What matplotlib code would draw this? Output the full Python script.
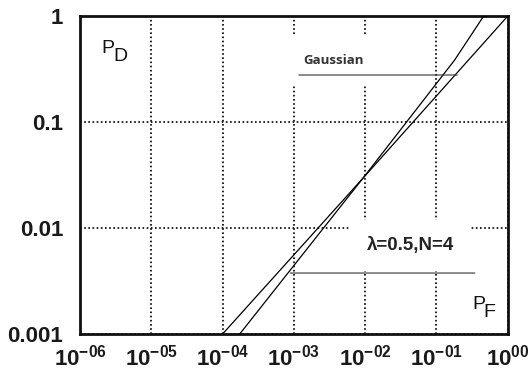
import matplotlib
matplotlib.use("Agg")
import matplotlib.pyplot as plt

plt.rcParams['mathtext.fontset'] = 'custom'
plt.rcParams['mathtext.rm'] = 'Liberation Sans'
plt.rcParams['mathtext.bf'] = 'Liberation Sans:bold'
plt.rcParams['font.family'] = ['Liberation Sans', 'DejaVu Sans']

# data
pf_a = [1e-4, 0.0093, 1.0]
pd_a = [1e-3, 0.0295, 1.0]
pf_b = [1.74e-4, 0.0093, 0.18, 0.45, 0.5]
pd_b = [1e-3, 0.0295, 0.385, 0.98, 1.0]

x_ticks = [1e-6, 1e-5, 1e-4, 1e-3, 1e-2, 1e-1, 1e0]
x_labels = [r'$\mathbf{10^{-06}}$', r'$\mathbf{10^{-05}}$', r'$\mathbf{10^{-04}}$',
            r'$\mathbf{10^{-03}}$', r'$\mathbf{10^{-02}}$', r'$\mathbf{10^{-01}}$',
            r'$\mathbf{10^{00}}$']
y_ticks = [1e-3, 1e-2, 1e-1, 1]
y_labels = ['0.001', '0.01', '0.1', '1']

fig = plt.figure(figsize=(5.30, 3.74), dpi=100)
ax = fig.add_axes([0.151, 0.107, 0.807, 0.850])
ax.set_xscale('log')
ax.set_yscale('log')
ax.set_xlim(1e-6, 1)
ax.set_ylim(1e-3, 1)

ax.plot(pf_a, pd_a, color='black', lw=0.9, zorder=4)
ax.plot(pf_b, pd_b, color='black', lw=0.9, zorder=4)

ax.set_xticks(x_ticks)
ax.set_xticklabels(x_labels, fontsize=16, color='#1a1a1a')
ax.set_yticks(y_ticks)
ax.set_yticklabels(y_labels, fontsize=16, fontweight='bold', color='#1a1a1a')
ax.minorticks_off()
ax.tick_params(length=0)
ax.tick_params(axis='y', pad=12)
ax.tick_params(axis='x', pad=8)

ax.grid(True, which='major', color='black', linestyle=(0, (1, 1.5)), lw=1.2, zorder=1)
ax.set_axisbelow(True)
for s in ax.spines.values():
    s.set_linewidth(2)
    s.set_color('#111111')

# axis name labels
ax.text(0.051, 0.884, 'P', transform=ax.transAxes, fontsize=14, color='#111111')
ax.annotate('D', xy=(0.051, 0.884), xycoords='axes fraction', xytext=(8.6, -5.8),
            textcoords='offset points', fontsize=14, color='#111111')
ax.text(0.918, 0.079, 'P', transform=ax.transAxes, fontsize=14, color='#111111')
ax.annotate('F', xy=(0.918, 0.079), xycoords='axes fraction', xytext=(8.0, -5.8),
            textcoords='offset points', fontsize=14, color='#111111')

ax.text(3.55e-3, 0.385, 'Gaussian', fontsize=9.5, fontweight='bold', family='Open Sans',
        ha='center', va='center', color='#333333', zorder=3,
        bbox=dict(facecolor='white', edgecolor='none', boxstyle='square,pad=1.5'))
ax.annotate('', xy=(10**-0.71, 0.278), xytext=(10**-2.93, 0.278),
            arrowprops=dict(arrowstyle='-', color='#333333', lw=0.8, shrinkA=0, shrinkB=0),
            zorder=5)

ax.text(0.0437, 0.0068, 'λ=0.5,N=4', fontsize=13.5, fontweight='bold',
        ha='center', va='center', color='#222222', zorder=3,
        bbox=dict(facecolor='white', edgecolor='none', boxstyle='square,pad=0.9'))
ax.annotate('', xy=(10**-0.46, 0.00376), xytext=(10**-3.05, 0.00376),
            arrowprops=dict(arrowstyle='-', color='#333333', lw=0.8, shrinkA=0, shrinkB=0),
            zorder=5)

fig.savefig('out.png', dpi=100)
